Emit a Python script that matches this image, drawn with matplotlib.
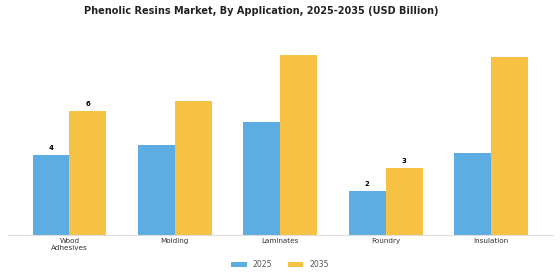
import numpy as np
import matplotlib.pyplot as plt

# Datos
categorias = ['Wood\nAdhesives', 'Molding', 'Laminates', 'Foundry', 'Insulation']
valores_2025 = [3.8, 4.3, 5.4, 2.1, 3.9]
valores_2035 = [5.9, 6.4, 8.6, 3.2, 8.5]
# barras con etiqueta de valor (índices)
etiquetadas = [0, 3]

color_2025 = '#5DADE2'
color_2035 = '#F7C244'

fig = plt.figure(figsize=(5.6, 2.8), dpi=100)
ax = fig.add_axes([0.014, 0.161, 0.973, 0.678])

x = np.arange(len(categorias))
w = 0.35
ax.bar(x - w / 2, valores_2025, w, color=color_2025, label='2025')
ax.bar(x + w / 2, valores_2035, w, color=color_2035, label='2035')

for i in etiquetadas:
    ax.text(x[i] - w / 2, valores_2025[i] + 0.2, f'{valores_2025[i]:.0f}',
            ha='center', va='bottom', fontsize=5, fontweight='bold')
    ax.text(x[i] + w / 2, valores_2035[i] + 0.2, f'{valores_2035[i]:.0f}',
            ha='center', va='bottom', fontsize=5, fontweight='bold')

ax.set_ylim(0, 9.05)
ax.set_xticks(x)
ax.set_xticklabels(categorias, fontsize=5.2, color='#333333', linespacing=1.25)
ax.tick_params(axis='x', length=0, pad=2)
ax.set_yticks([])
for s in ['top', 'right', 'left']:
    ax.spines[s].set_visible(False)
ax.spines['bottom'].set_color('#dddddd')
ax.spines['bottom'].set_linewidth(0.8)

fig.text(0.467, 0.962, 'Phenolic Resins Market, By Application, 2025-2035 (USD Billion)',
         ha='center', va='center', fontsize=7, fontweight='bold', color='#222222')

fig.legend(loc='center', bbox_to_anchor=(0.5, 0.054), ncol=2, frameon=False,
           fontsize=5.6, handlelength=2.0, handleheight=0.5, columnspacing=2.0,
           handletextpad=0.8, labelcolor='#555555')

fig.savefig('out.png', dpi=100)
